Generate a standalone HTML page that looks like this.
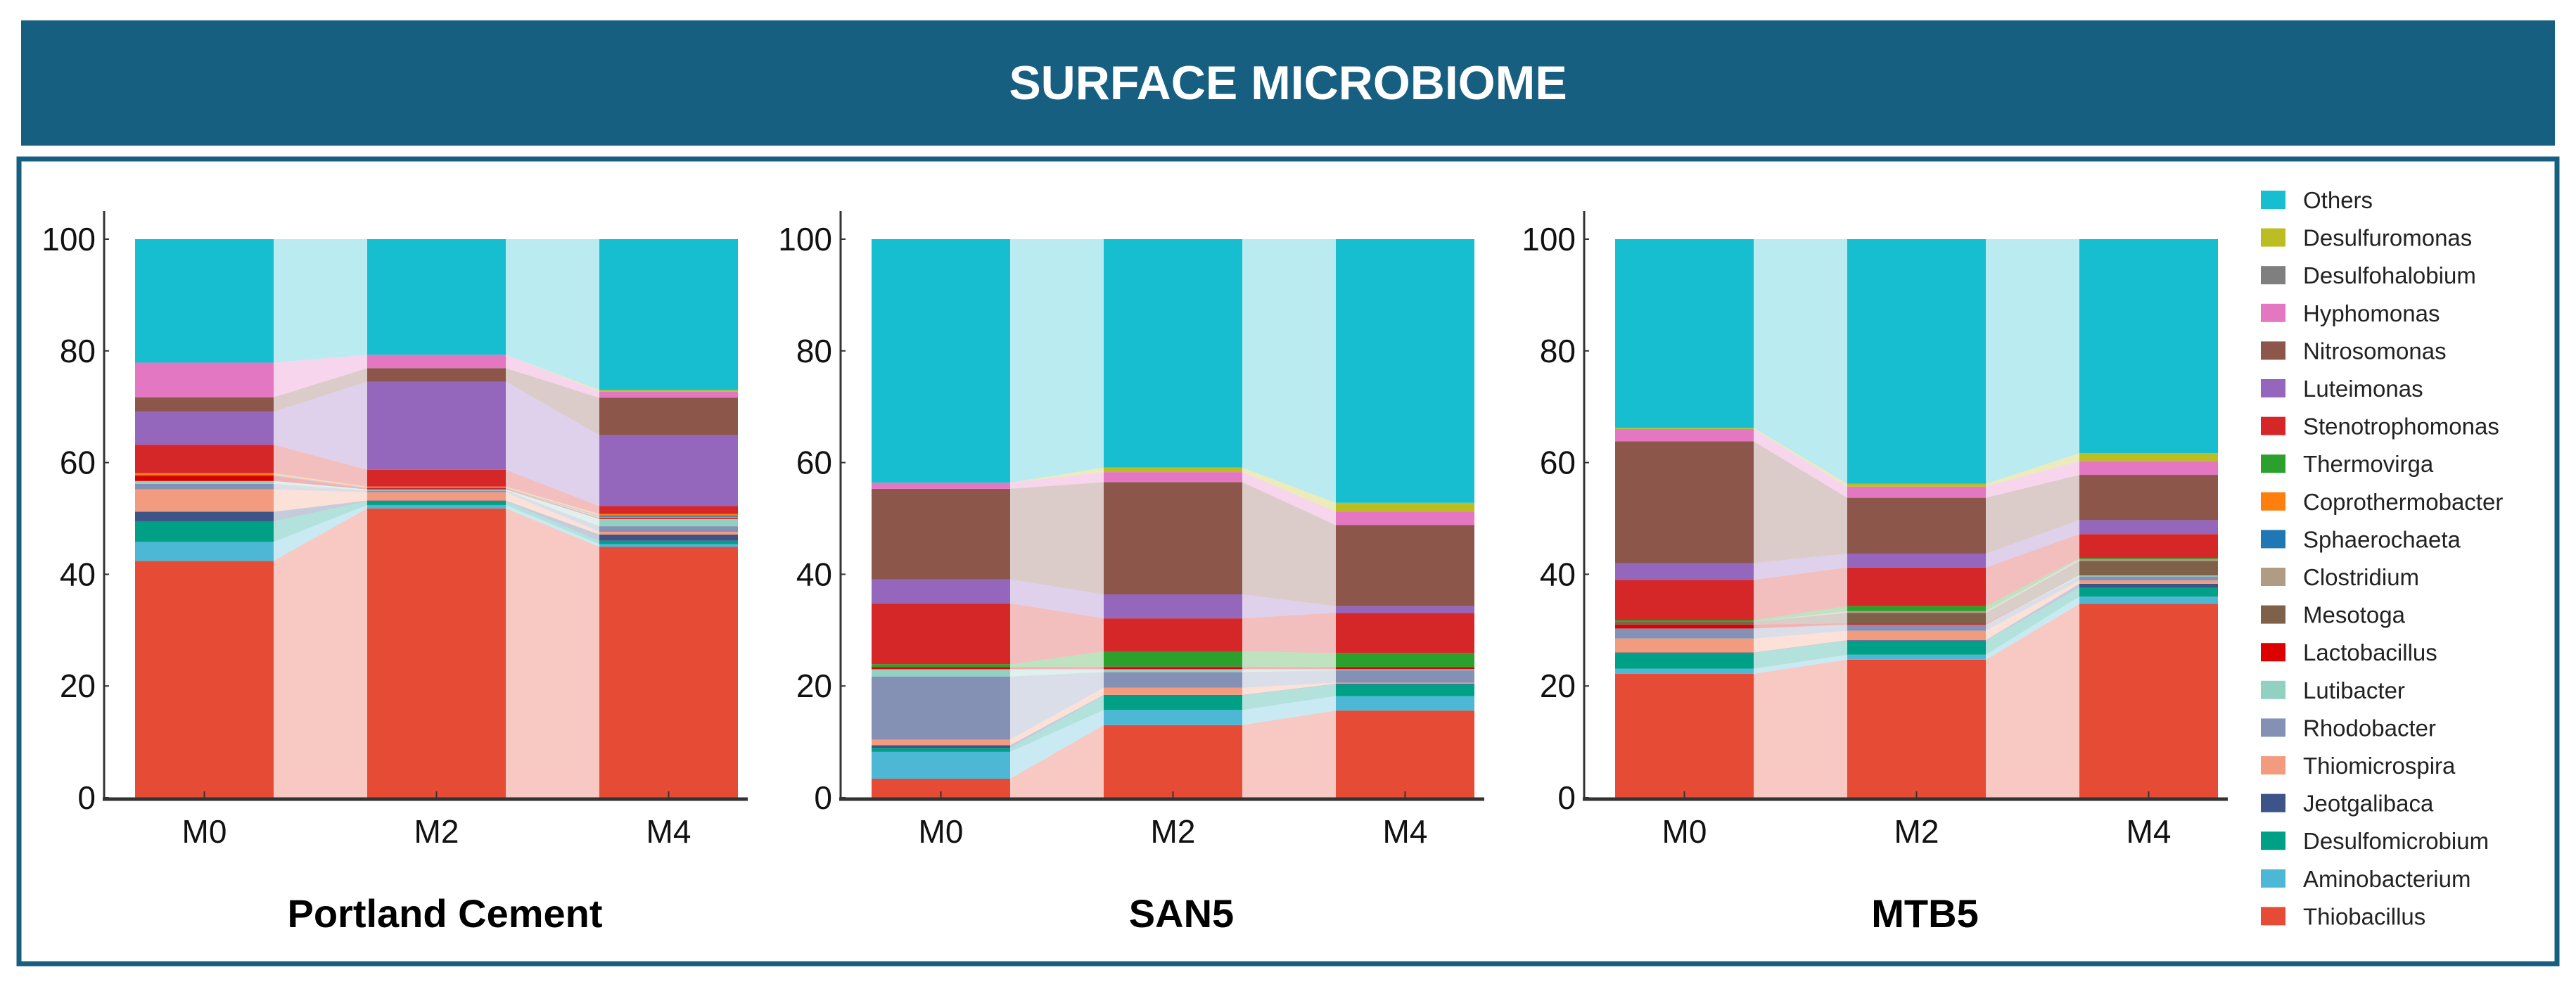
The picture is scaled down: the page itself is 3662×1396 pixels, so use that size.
<!DOCTYPE html>
<html><head><meta charset="utf-8">
<style>
html,body{margin:0;padding:0;background:#fff;}
body{width:3662px;height:1396px;position:relative;overflow:hidden;font-family:"Liberation Sans",Arial,sans-serif;}
</style></head>
<body>
<svg id="chart" width="3662" height="1396" xmlns="http://www.w3.org/2000/svg" style="position:absolute;left:0;top:0">
  <rect x="30" y="29" width="3602" height="178" fill="#175f80"/>
  <text x="1831" y="141" text-anchor="middle" font-family="Liberation Sans, Arial, sans-serif" font-weight="bold" font-size="68" fill="#ffffff">SURFACE MICROBIOME</text>
  <rect x="27" y="226" width="3608" height="1144" fill="none" stroke="#175f80" stroke-width="7"/>
  <g id="plots"></g>
  <g id="legend"></g>
</svg>
<script>
const genera = ["Thiobacillus","Aminobacterium","Desulfomicrobium","Jeotgalibaca","Thiomicrospira","Rhodobacter","Lutibacter","Lactobacillus","Mesotoga","Clostridium","Sphaerochaeta","Coprothermobacter","Thermovirga","Stenotrophomonas","Luteimonas","Nitrosomonas","Hyphomonas","Desulfohalobium","Desulfuromonas","Others"];
const colors = ["#e64b35","#4db8d6","#00a087","#3c5488","#f39b7f","#8491b4","#91d1c2","#dc0000","#7e6148","#b09c85","#1f77b4","#ff7f0e","#2ca02c","#d62728","#9467bd","#8c564b","#e377c2","#7f7f7f","#bcbd22","#17becf"];
const timepoints = ["M0","M2","M4"];
const yTicks = [0,20,40,60,80,100];
const panelNames = ["Portland Cement","SAN5","MTB5"];
// values in genera order (bottom to top), percent
const pcM0 = [42.4,3.4,3.7,1.7,4.0,1.0,0.5,0.9,0,0,0.2,0.3,0,5.1,5.9,2.6,6.2,0,0,22.1];
const pcM2 = [51.8,0.6,0.7,0.1,1.5,0.3,0.2,0.2,0,0,0.1,0.2,0,3.0,15.8,2.4,2.4,0,0,20.7];
const pcM4 = [44.9,0.5,0.6,1.1,0.5,1.0,1.3,0.2,0,0.2,0.2,0.3,0,1.4,12.7,6.7,1.1,0,0.3,27.0];
const sanM0 = [3.4,4.8,0.7,0.5,1.0,11.3,1.3,0.4,0,0,0,0,0.5,10.9,4.3,16.2,1.1,0,0,43.6];
const sanM2 = [13.0,2.7,2.6,0.1,1.3,2.8,0.5,0.4,0.1,0,0,0,2.7,5.9,4.3,20.1,1.8,0,0.8,40.9];
const sanM4 = [15.6,2.6,2.1,0.1,0.2,2.2,0.2,0.4,0,0,0,0,2.5,7.2,1.2,14.5,2.4,0,1.6,47.2];
const mtbM0 = [22.2,0.9,2.8,0.1,2.5,1.8,0,0.7,0.5,0,0,0,0.3,7.2,3.0,21.8,2.2,0,0.2,33.8];
const mtbM2 = [24.7,0.9,2.5,0.1,1.7,1.1,0,0.2,1.9,0.3,0,0,0.9,6.9,2.5,10.0,2.0,0,0.5,43.8];
const mtbM4 = [34.7,1.3,1.6,0.7,0.6,0.7,0.2,0,2.6,0.3,0,0,0.2,4.3,2.5,8.1,2.5,0,1.4,38.3];
const panelData = [[pcM0,pcM2,pcM4],[sanM0,sanM2,sanM4],[mtbM0,mtbM2,mtbM4]];

const NS = "http://www.w3.org/2000/svg";
const axisX = [148,1195,2252];
const Y0 = 1134, Y100 = 340;
const barW = 197, firstOff = 44, pitch = 330;
function yScale(v){ return Y0 - (Y0 - Y100) * v / 100; }
function mk(tag, attrs, parent){ const e=document.createElementNS(NS,tag); for(const k in attrs) e.setAttribute(k,attrs[k]); parent.appendChild(e); return e; }
const plots = document.getElementById('plots');

panelData.forEach((pd, p) => {
  const ax = axisX[p];
  const g = mk('g', {}, plots);
  
  
  const xLeft = i => ax + firstOff + i * pitch;
  // cumulative stacks
  const cum = pd.map(vals => { let s=0; return vals.map(v => { const b=s; s+=v; return [b,s]; }); });
  // flows
  for (let i=0;i<timepoints.length-1;i++){
    genera.forEach((gn, k) => {
      const a = cum[i][k], b = cum[i+1][k];
      if (a[1]-a[0] <= 0 && b[1]-b[0] <= 0) return;
      const x1 = xLeft(i)+barW, x2 = xLeft(i+1);
      const poly = mk('polygon', {points:`${x1},${yScale(a[0])} ${x1},${yScale(a[1])} ${x2},${yScale(b[1])} ${x2},${yScale(b[0])}`, fill:colors[k], 'fill-opacity':0.3}, g);
      
      
    });
  }
  // bars
  timepoints.forEach((tp, i) => {
    genera.forEach((gn, k) => {
      const [b0,b1] = cum[i][k];
      if (b1-b0 <= 0) return;
      const r = mk('rect', {x:xLeft(i), y:yScale(b1), width:barW, height:yScale(b0)-yScale(b1), fill:colors[k]}, g);
      
      
    });
  });
  // axes
  const yAxis = mk('line', {x1:ax, y1:300, x2:ax, y2:Y0+2, stroke:'#333', 'stroke-width':3}, g);
  
  
  const xAxis = mk('line', {x1:ax-2, y1:Y0+2, x2:xLeft(2)+barW+14, y2:Y0+2, stroke:'#333', 'stroke-width':5}, g);
  
  
  yTicks.forEach(t => {
    mk('line', {x1:ax, y1:yScale(t), x2:ax+7, y2:yScale(t), stroke:'#333', 'stroke-width':2}, g);
    const tl = mk('text', {x:ax-12, y:yScale(t)+16, 'text-anchor':'end', 'font-size':46, fill:'#111', 'font-family':'Liberation Sans, Arial, sans-serif'}, g);
    tl.textContent = t;
    
    
  });
  timepoints.forEach((tp, i) => {
    const cx = xLeft(i) + barW/2;
    mk('line', {x1:cx, y1:Y0, x2:cx, y2:Y0-9, stroke:'#333', 'stroke-width':2}, g);
    const xl = mk('text', {x:cx, y:Y0+64, 'text-anchor':'middle', 'font-size':46, fill:'#111', 'font-family':'Liberation Sans, Arial, sans-serif'}, g);
    xl.textContent = tp;
    
    
  });
  const st = mk('text', {x:xLeft(1)+barW/2+12, y:1318, 'text-anchor':'middle', 'font-size':56, 'font-weight':'bold', fill:'#000', 'font-family':'Liberation Sans, Arial, sans-serif'}, g);
  st.textContent = panelNames[p];
  
  
});

// legend (top: Others ... bottom: Thiobacillus)
const legend = document.getElementById('legend');
for (let j=0;j<genera.length;j++){
  const k = genera.length-1-j;
  const cy = 284 + j*53.6;
  const eg = mk('g', {}, legend);
  
  
  mk('rect', {x:3214, y:cy-13, width:35, height:26, fill:colors[k]}, eg);
  const t = mk('text', {x:3274, y:cy+12, 'font-size':33, fill:'#222', 'font-family':'Liberation Sans, Arial, sans-serif'}, eg);
  t.textContent = genera[k];
}
</script>
</body></html>
